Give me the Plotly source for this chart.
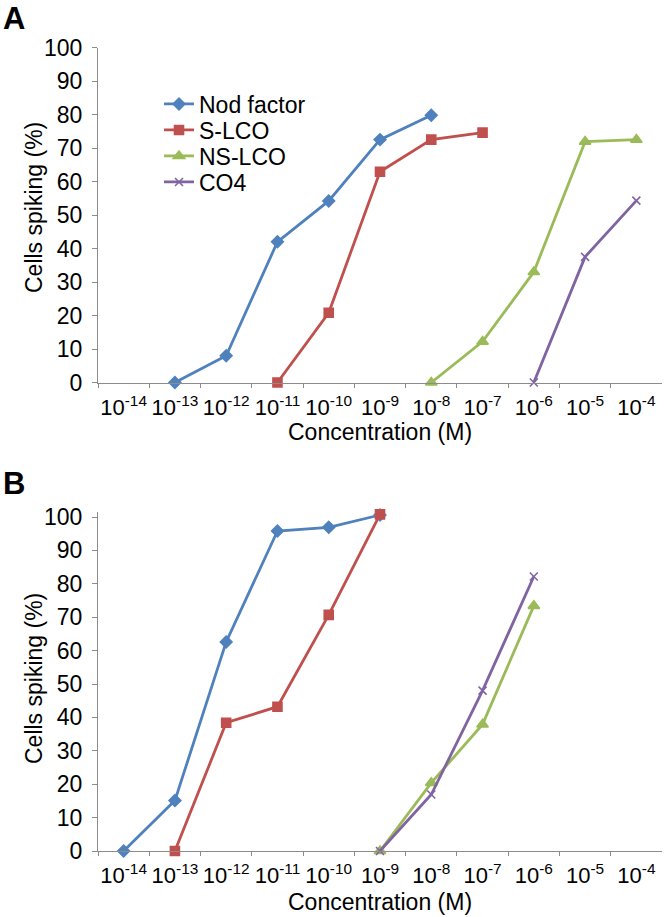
import plotly.graph_objects as go

# ---- data ----
categories = ["10<sup>-14</sup>", "10<sup>-13</sup>", "10<sup>-12</sup>", "10<sup>-11</sup>",
              "10<sup>-10</sup>", "10<sup>-9</sup>", "10<sup>-8</sup>", "10<sup>-7</sup>",
              "10<sup>-6</sup>", "10<sup>-5</sup>", "10<sup>-4</sup>"]
series_names = ["Nod factor", "S-LCO", "NS-LCO", "CO4"]

# Panel A
a_nod_x = ["10<sup>-13</sup>", "10<sup>-12</sup>", "10<sup>-11</sup>", "10<sup>-10</sup>", "10<sup>-9</sup>", "10<sup>-8</sup>"]
a_nod_y = [0, 8, 42, 54.2, 72.5, 79.8]
a_slco_x = ["10<sup>-11</sup>", "10<sup>-10</sup>", "10<sup>-9</sup>", "10<sup>-8</sup>", "10<sup>-7</sup>"]
a_slco_y = [0, 20.8, 62.9, 72.5, 74.6]
a_nslco_x = ["10<sup>-8</sup>", "10<sup>-7</sup>", "10<sup>-6</sup>", "10<sup>-5</sup>", "10<sup>-4</sup>"]
a_nslco_y = [0, 12.2, 33, 71.9, 72.5]
a_co4_x = ["10<sup>-6</sup>", "10<sup>-5</sup>", "10<sup>-4</sup>"]
a_co4_y = [0, 37.5, 54.3]

# Panel B
b_nod_x = ["10<sup>-14</sup>", "10<sup>-13</sup>", "10<sup>-12</sup>", "10<sup>-11</sup>", "10<sup>-10</sup>", "10<sup>-9</sup>"]
b_nod_y = [0, 15.1, 62.6, 95.8, 96.9, 100.6]
b_slco_x = ["10<sup>-13</sup>", "10<sup>-12</sup>", "10<sup>-11</sup>", "10<sup>-10</sup>", "10<sup>-9</sup>"]
b_slco_y = [0, 38.4, 43.2, 70.7, 100.8]
b_nslco_x = ["10<sup>-9</sup>", "10<sup>-8</sup>", "10<sup>-7</sup>", "10<sup>-6</sup>"]
b_nslco_y = [0, 20.4, 37.9, 73.4]
b_co4_x = ["10<sup>-9</sup>", "10<sup>-8</sup>", "10<sup>-7</sup>", "10<sup>-6</sup>"]
b_co4_y = [0, 16.9, 48.0, 82.2]

y_ticks = [0, 10, 20, 30, 40, 50, 60, 70, 80, 90, 100]
x_title = "Concentration (M)"
y_title = "Cells spiking (%)"

# ---- styles ----
colors = ["#4F81BD", "#C0504D", "#9BBB59", "#8064A2"]
symbols = ["diamond", "square", "triangle-up", "x-thin"]
msizes = [9, 9, 10, 8]
FONT = "Liberation Sans, Arial, sans-serif"
AX = "#8C8C8C"
H = 917
W = 664
legend_ids = ["legend", "legend2", "legend3", "legend4"]
legend_centers = [104, 130, 156, 182]

fig = go.Figure()

panels = [
    ([(a_nod_x, a_nod_y), (a_slco_x, a_slco_y), (a_nslco_x, a_nslco_y), (a_co4_x, a_co4_y)], "x", "y", True),
    ([(b_nod_x, b_nod_y), (b_slco_x, b_slco_y), (b_nslco_x, b_nslco_y), (b_co4_x, b_co4_y)], "x2", "y2", False),
]
for data, xa, ya, showleg in panels:
    for i, (xs, ys) in enumerate(data):
        fig.add_trace(go.Scatter(
            x=xs, y=ys, mode="lines+markers", name=series_names[i],
            line=dict(color=colors[i], width=2.8),
            marker=dict(symbol=symbols[i], size=msizes[i], color=colors[i],
                        line=dict(color=colors[i], width=1.6)),
            xaxis=xa, yaxis=ya, showlegend=showleg, cliponaxis=False,
            legend=legend_ids[i],
        ))

xdom = [98 / W, 662 / W]
xa_common = dict(
    type="category", categoryorder="array", categoryarray=categories,
    range=[-0.5, 10.5], tickson="boundaries", showline=True, linecolor=AX, linewidth=1,
    ticks="outside", ticklen=4, tickcolor=AX, showgrid=False, zeroline=False,
    tickangle=0, ticklabelstandoff=5,
    tickfont=dict(family=FONT, size=22, color="black"),
    automargin=False, domain=xdom, fixedrange=True,
)
ya_common = dict(
    tickvals=y_ticks, showline=True, linecolor=AX, linewidth=1,
    ticks="outside", ticklen=5, tickcolor=AX, showgrid=False, zeroline=False,
    ticklabelstandoff=5,
    tickfont=dict(family=FONT, size=23, color="black"),
    automargin=False, fixedrange=True,
)

legends = {}
for lid, yc in zip(legend_ids, legend_centers):
    legends[lid] = dict(x=159 / W, y=1 - yc / H, xanchor="left", yanchor="middle",
                        font=dict(family=FONT, size=23, color="black"),
                        bgcolor="rgba(0,0,0,0)", itemwidth=30)

def ann(text, x, y, size, angle=0, bold=False, yanchor="middle"):
    return dict(text=f"<b>{text}</b>" if bold else text, x=x / W, y=1 - y / H,
                xref="paper", yref="paper", xanchor="center", yanchor=yanchor,
                showarrow=False, textangle=angle, borderpad=0,
                font=dict(family=FONT, size=size, color="black"))

annotations = [
    ann("A", 14, 0, 31, bold=True, yanchor="top"),
    ann("B", 14, 483, 31, bold=True),
    ann(x_title, 380, 432, 23),
    ann(x_title, 380, 902, 23),
    ann(y_title, 34, 208, 23, angle=-90),
    ann(y_title, 34, 679, 23, angle=-90),
]

fig.update_layout(
    width=W, height=H,
    margin=dict(l=0, r=0, t=0, b=0),
    paper_bgcolor="white", plot_bgcolor="white",
    font=dict(family=FONT, color="black"),
    xaxis=dict(**xa_common, anchor="y"),
    xaxis2=dict(**xa_common, anchor="y2"),
    yaxis=dict(**ya_common, range=[0, 100], anchor="x",
               domain=[1 - 382.5 / H, 1 - 47.5 / H]),
    yaxis2=dict(**ya_common, range=[0, 101.5], anchor="x2",
                domain=[1 - 851 / H, 1 - (517 - 1.5 * 3.34) / H]),
    showlegend=True,
    annotations=annotations,
    **legends,
)

fig.write_html("out.html", config={"displayModeBar": False},
               post_script="document.body.style.margin='0';document.body.style.overflow='hidden';")
